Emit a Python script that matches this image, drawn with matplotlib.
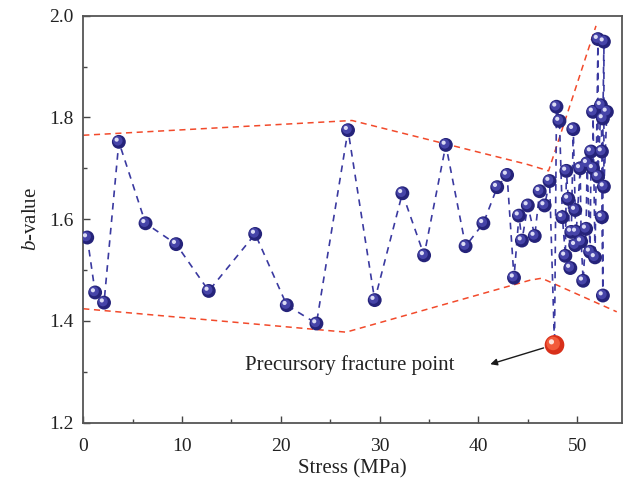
import matplotlib
matplotlib.use("Agg")
import matplotlib.pyplot as plt
import matplotlib.transforms as mtransforms

plt.rcParams['font.family'] = ['Liberation Serif', 'DejaVu Serif']
plt.rcParams['mathtext.fontset'] = 'custom'
plt.rcParams['mathtext.it'] = 'Liberation Serif:italic'
plt.rcParams['mathtext.rm'] = 'Liberation Serif'

# b-value sequence (stress in MPa, b-value)
stress = [0.4, 1.2, 2.1, 3.6, 6.3, 9.4, 12.7, 17.4, 20.6, 23.6, 26.8, 29.5, 32.3, 34.5,
          36.7, 38.7, 40.5, 41.9, 42.9, 43.6, 44.1, 44.4, 45.0, 45.7, 46.2, 46.7, 47.2,
          47.7, 47.9, 48.2, 48.5, 48.8, 48.9, 49.1, 49.3, 49.4, 49.6, 49.8, 49.8, 49.9,
          50.3, 50.4, 50.6, 50.9, 51.0, 51.3, 51.4, 51.6, 51.6, 51.8, 52.1, 52.1, 52.4,
          52.5, 52.5, 52.6, 52.6, 52.7, 52.7, 53.0]
bvalue = [1.564, 1.456, 1.436, 1.752, 1.592, 1.551, 1.459, 1.571, 1.431, 1.395, 1.775,
          1.441, 1.651, 1.529, 1.746, 1.547, 1.592, 1.663, 1.687, 1.485, 1.607, 1.558,
          1.627, 1.567, 1.655, 1.627, 1.675, 1.353, 1.821, 1.793, 1.604, 1.528, 1.695,
          1.640, 1.504, 1.575, 1.777, 1.618, 1.549, 1.575, 1.700, 1.556, 1.479, 1.581,
          1.710, 1.536, 1.733, 1.700, 1.811, 1.525, 1.954, 1.684, 1.824, 1.733, 1.604,
          1.450, 1.798, 1.949, 1.664, 1.811]

# precursory fracture point
fracture_x = [47.7]
fracture_y = [1.353]

# envelope lines
upper_x = [0.0, 27.2, 44.9, 47.1, 51.9]
upper_y = [1.765, 1.794, 1.708, 1.695, 1.980]
lower_x = [0.0, 26.6, 45.2, 46.4, 54.0]
lower_y = [1.424, 1.378, 1.480, 1.484, 1.418]

fig = plt.figure(figsize=(6.3, 4.87), dpi=100)
ax = fig.add_axes([0.1322, 0.1320, 0.8546, 0.8358])

red = '#f24a2b'

ax.plot(upper_x, upper_y, ls=(0, (4, 3)), color=red, lw=1.1, zorder=2)
ax.plot(lower_x, lower_y, ls=(0, (4, 3)), color=red, lw=1.1, zorder=2)

ax.plot(stress, bvalue, ls=(0, (4, 3.5)), color='#3a39a0', lw=1.2, zorder=3)

# normal points (all except fracture point)
nx = [x for x, y in zip(stress, bvalue) if not (x == fracture_x[0] and y == fracture_y[0])]
ny = [y for x, y in zip(stress, bvalue) if not (x == fracture_x[0] and y == fracture_y[0])]

ax.scatter(nx, ny, s=100, color='#25237a', edgecolors='none', zorder=4)
off1 = mtransforms.offset_copy(ax.transData, fig=fig, x=-0.8, y=0.8, units='points')
ax.scatter(nx, ny, s=48, color='#4644a8', edgecolors='none', zorder=5, transform=off1)
off2 = mtransforms.offset_copy(ax.transData, fig=fig, x=-1.6, y=1.6, units='points')
ax.scatter(nx, ny, s=9, color='#dcdcf4', edgecolors='none', zorder=6, transform=off2)

# fracture point
ax.scatter(fracture_x, fracture_y, s=200, color='#d8301a', edgecolors='none', zorder=7)
offr1 = mtransforms.offset_copy(ax.transData, fig=fig, x=-1.0, y=1.0, units='points')
ax.scatter(fracture_x, fracture_y, s=95, color='#f25a3a', edgecolors='none', zorder=8, transform=offr1)
offr2 = mtransforms.offset_copy(ax.transData, fig=fig, x=-2.2, y=2.2, units='points')
ax.scatter(fracture_x, fracture_y, s=14, color='#fde0d8', edgecolors='none', zorder=9, transform=offr2)

ax.annotate('', xy=(41.2, 1.315), xytext=(46.6, 1.347),
            arrowprops=dict(arrowstyle='-|>', color='#1a1a1a', lw=1.0,
                            mutation_scale=10, shrinkA=0, shrinkB=0), zorder=10)
ax.text(27.0, 1.313, 'Precursory fracture point', ha='center', va='center',
        fontsize=15, color='#222222')

ax.set_xlim(0, 54.5)
ax.set_ylim(1.2, 2.0)
ax.set_xticks([0, 10, 20, 30, 40, 50])
ax.set_xticks([5, 15, 25, 35, 45], minor=True)
ax.set_yticks([1.2, 1.4, 1.6, 1.8, 2.0])
ax.set_yticks([1.3, 1.5, 1.7, 1.9], minor=True)
ax.set_yticklabels(['1.2', '1.4', '1.6', '1.8', '2.0'])
ax.tick_params(which='both', direction='in', top=False, right=False,
               colors='#444444', labelcolor='#222222', labelsize=14)
ax.tick_params(which='major', length=5, width=1.0)
ax.tick_params(axis='x', which='major', pad=11)
ax.tick_params(axis='y', which='major', pad=7)
ax.tick_params(which='minor', length=3, width=1.0)
for sp in ax.spines.values():
    sp.set_color('#555555')
    sp.set_linewidth(1.3)

ax.set_xlabel('Stress (MPa)', fontsize=15, color='#222222', labelpad=3)
ax.set_ylabel(r'$b$-value', fontsize=15, color='#222222', labelpad=6)

fig.savefig('out.png', dpi=100)
